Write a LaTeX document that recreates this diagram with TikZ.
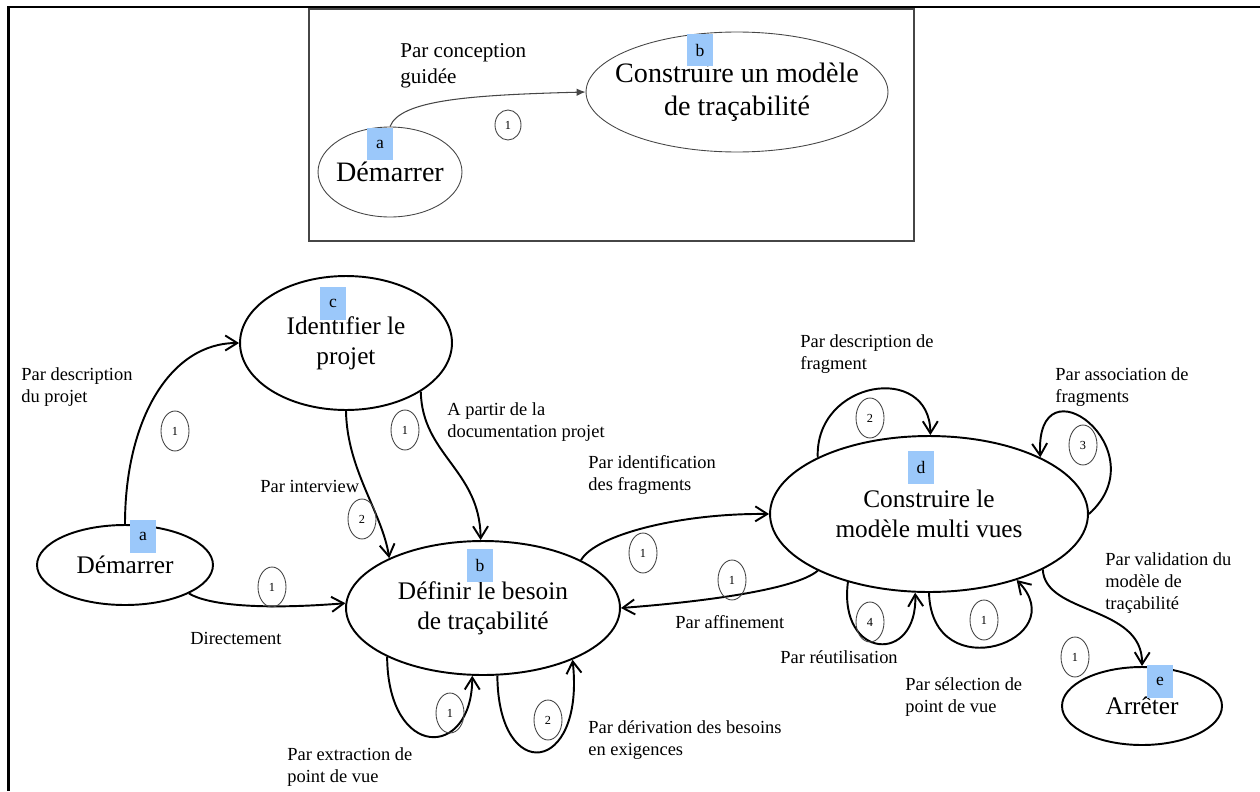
\documentclass[tikz,border=0pt]{standalone}
\usepackage{fontspec}
\setmainfont{Liberation Serif}
\usetikzlibrary{shapes.geometric,arrows.meta}
\definecolor{tagblue}{RGB}{155,200,250}
\definecolor{boxgray}{RGB}{70,70,70}
\begin{document}
\begin{tikzpicture}[x=0.02cm,y=-0.02cm,
                state/.style={draw,ellipse,line width=1.1pt,inner sep=-4mm,align=center,font=\fontsize{14.4}{17}\selectfont},
                tag/.style={fill=tagblue,minimum width=0.52cm,minimum height=0.66cm,inner sep=0pt,font=\fontsize{10}{12}\selectfont},
                num/.style={draw=boxgray,ellipse,line width=0.5pt,minimum width=0.56cm,minimum height=0.8cm,inner sep=0pt,font=\fontsize{7}{8}\selectfont},
                lbl/.style={anchor=north west,inner sep=0pt,align=left,font=\fontsize{10.5}{12.5}\selectfont},
                arc/.style={line width=1.1pt,-{Straight Barb[length=2.4mm,width=3mm]}}]
                \useasboundingbox (0,0) rectangle (1260,791);
                \draw[line width=1.4pt] (1260,7) -- (8.5,7) -- (8.5,791);
                \draw[boxgray,line width=0.6pt] (309,9) rectangle (914,241);
                % top box
                \node[state,draw=boxgray,line width=0.5pt,font=\fontsize{16}{19}\selectfont,minimum width=2.88cm,minimum height=1.8cm] (S0) at (390,172) {Démarrer};
                \node[state,draw=boxgray,line width=0.5pt,font=\fontsize{16}{19}\selectfont,minimum width=6.04cm,minimum height=2.4cm] (M0) at (737,92) {Construire un modèle\\de traçabilité};
                \node[tag] (ta0) at (380,144) {a};
                \node[tag] (tb0) at (700,50) {b};
                \draw[boxgray,line width=0.6pt,-{Latex[length=1.8mm,width=1.5mm]}] (S0.north) .. controls (400,100) and (470,95) .. (M0.west);
                \node[num,minimum width=0.52cm,minimum height=0.6cm] (n0) at (508,125) {1};
                \node[lbl,font=\fontsize{12}{14.7}\selectfont] (l0) at (400,43) {Par conception\\guidée};
                % process map
                \node[state,minimum width=3.52cm,minimum height=1.6cm] (S) at (125,565) {Démarrer};
                \node[state,minimum width=4.24cm,minimum height=2.68cm] (I) at (346,343) {Identifier le\\projet};
                \node[state,minimum width=5.48cm,minimum height=2.68cm] (B) at (483,608) {Définir le besoin\\de traçabilité};
                \node[state,minimum width=6.36cm,minimum height=3.12cm] (C) at (929,514) {Construire le\\modèle multi vues};
                \node[state,minimum width=3.2cm,minimum height=1.56cm] (E) at (1142,706) {Arrêter};
                \node[tag] (ta) at (143,536) {a};
                \node[tag] (tc) at (333,303) {c};
                \node[tag] (tb) at (480,565) {b};
                \node[tag] (td) at (921,467) {d};
                \node[tag] (te) at (1160,681) {e};
                \draw[arc] (S.north) .. controls (125,420) and (170,343) .. (I.west);
                \draw[arc] (I.south) .. controls (347,470) and (382,512) .. (B.152);
                \draw[arc] (I.-33) .. controls (422,455) and (480,470) .. (B.92);
                \draw[arc] (S.-24) .. controls (208,605) and (260,610) .. (B.178);
                \draw[arc] (B.207) .. controls (388,760) and (472,760) .. (B.-99);
                \draw[arc] (B.-78) .. controls (498,785) and (585,775) .. (B.-30);
                \draw[arc] (B.26) .. controls (595,535) and (680,513) .. (C.west);
                \draw[arc] (C.207) .. controls (795,590) and (700,602) .. (B.east);
                \draw[arc] (C.153) .. controls (815,380) and (930,362) .. (C.89);
                \draw[arc] (C.east) .. controls (1160,450) and (1035,355) .. (C.27);
                \draw[arc] (C.220) .. controls (838,660) and (918,665) .. (C.260);
                \draw[arc] (C.south) .. controls (932,690) and (1075,640) .. (C.-37);
                \draw[arc] (C.-26) .. controls (1045,615) and (1143,605) .. (E.north);
                \node[num] (n1) at (175,431) {1};
                \node[num] (n2) at (362,519) {2};
                \node[num] (n3) at (405,430) {1};
                \node[num] (n4) at (272,587) {1};
                \node[num] (n5) at (450,713) {1};
                \node[num] (n6) at (548,720) {2};
                \node[num] (n7) at (643,553) {1};
                \node[num] (n8) at (732,580) {1};
                \node[num] (n9) at (870,418) {2};
                \node[num] (n10) at (1083,445) {3};
                \node[num] (n11) at (870,622) {4};
                \node[num] (n12) at (984,620) {1};
                \node[num] (n13) at (1075,657) {1};
                \node[lbl] (l1) at (21,367) {Par description\\du projet};
                \node[lbl] (l2) at (260,480) {Par interview};
                \node[lbl] (l3) at (447,402) {A partir de la\\documentation projet};
                \node[lbl] (l4) at (190,632) {Directement};
                \node[lbl] (l5) at (287,747) {Par extraction de\\point de vue};
                \node[lbl] (l6) at (588,720) {Par dérivation des besoins\\en exigences};
                \node[lbl] (l7) at (588,455) {Par identification\\des fragments};
                \node[lbl] (l8) at (675,615) {Par affinement};
                \node[lbl] (l9) at (800,334) {Par description de\\fragment};
                \node[lbl] (l10) at (1055,367) {Par association de\\fragments};
                \node[lbl] (l11) at (780,650) {Par réutilisation};
                \node[lbl] (l12) at (905,677) {Par sélection de\\point de vue};
                \node[lbl] (l13) at (1105,552) {Par validation du\\modèle de\\traçabilité};
            \end{tikzpicture}
\end{document}
